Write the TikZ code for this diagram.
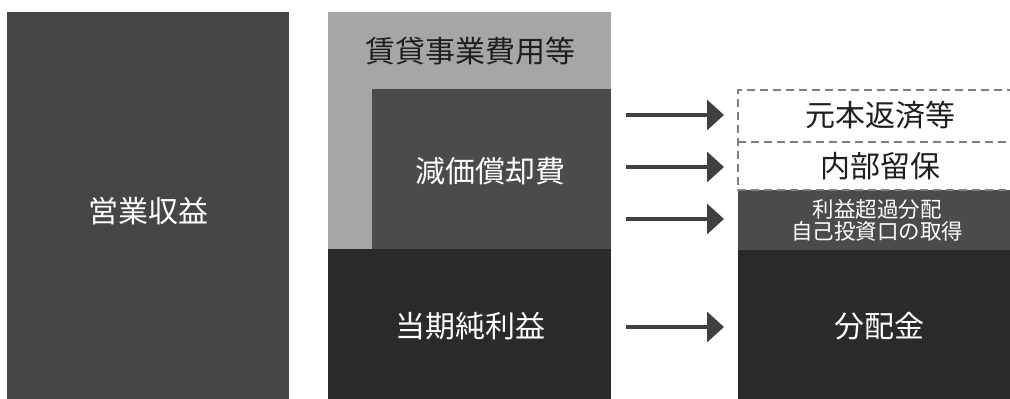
\documentclass[tikz,border=0pt]{standalone}
\usepackage{fontspec}
\setmainfont{Noto Sans CJK JP}
\usetikzlibrary{arrows.meta}
\definecolor{boxA}{HTML}{454545}
\definecolor{boxLight}{HTML}{A6A6A6}
\definecolor{boxMid}{HTML}{4B4B4B}
\definecolor{boxDark}{HTML}{2A2A2A}
\definecolor{arrowC}{HTML}{404040}
\definecolor{dashC}{HTML}{7F7F7F}
\tikzset{
  blk/.style={inner sep=0pt, outer sep=0pt, anchor=north west},
  lbl/.style={font=\fontsize{30}{34}\selectfont, inner sep=0pt},
  smalllbl/.style={font=\fontsize{21.5}{24}\selectfont, inner sep=0pt, align=center},
  flow/.style={line width=3.5pt, draw=arrowC, -{Triangle[length=17pt,width=30pt]}},
  dashbox/.style={draw=dashC, line width=2.5pt, dash pattern=on 8pt off 5pt}
}
\begin{document}
\begin{tikzpicture}[x=1pt,y=-1pt]
\useasboundingbox (0,0) rectangle (1010,399);
% left column
\fill[boxA] (7,12) rectangle (289,399);
\node[lbl, text=white] (rev) at (148,211) {営業収益};
% middle column
\fill[boxLight] (328,12) rectangle (611,249);
\fill[boxMid] (372,89) rectangle (611,249);
\fill[boxDark] (328,249) rectangle (611,399);
\node[lbl, text=black!88] (cost) at (470,51) {賃貸事業費用等};
\node[lbl, text=white] (dep) at (490,171) {減価償却費};
\node[lbl, text=white] (net) at (470,326) {当期純利益};
% right column
\fill[boxMid] (738,190) rectangle (1015,250);
\fill[boxDark] (738,250) rectangle (1015,399);
\draw[dashbox] (1015,90) -- (738,90) -- (738,190) -- (1015,190);
\draw[dashbox] (738,142) -- (1015,142);
\node[lbl, text=black!88] (repay) at (880,115) {元本返済等};
\node[lbl, text=black!88] (retain) at (880,166) {内部留保};
\node[smalllbl, text=white] (excess) at (877,220) {利益超過分配\\[-2pt]自己投資口の取得};
\node[lbl, text=white] (dist) at (879,326) {分配金};
% arrows
\coordinate (s1) at (626,115); \coordinate (e1) at (724,115);
\coordinate (s2) at (626,167); \coordinate (e2) at (724,167);
\coordinate (s3) at (626,219); \coordinate (e3) at (724,219);
\coordinate (s4) at (626,327); \coordinate (e4) at (724,327);
\draw[flow] (s1) -- (e1);
\draw[flow] (s2) -- (e2);
\draw[flow] (s3) -- (e3);
\draw[flow] (s4) -- (e4);
\end{tikzpicture}
\end{document}
